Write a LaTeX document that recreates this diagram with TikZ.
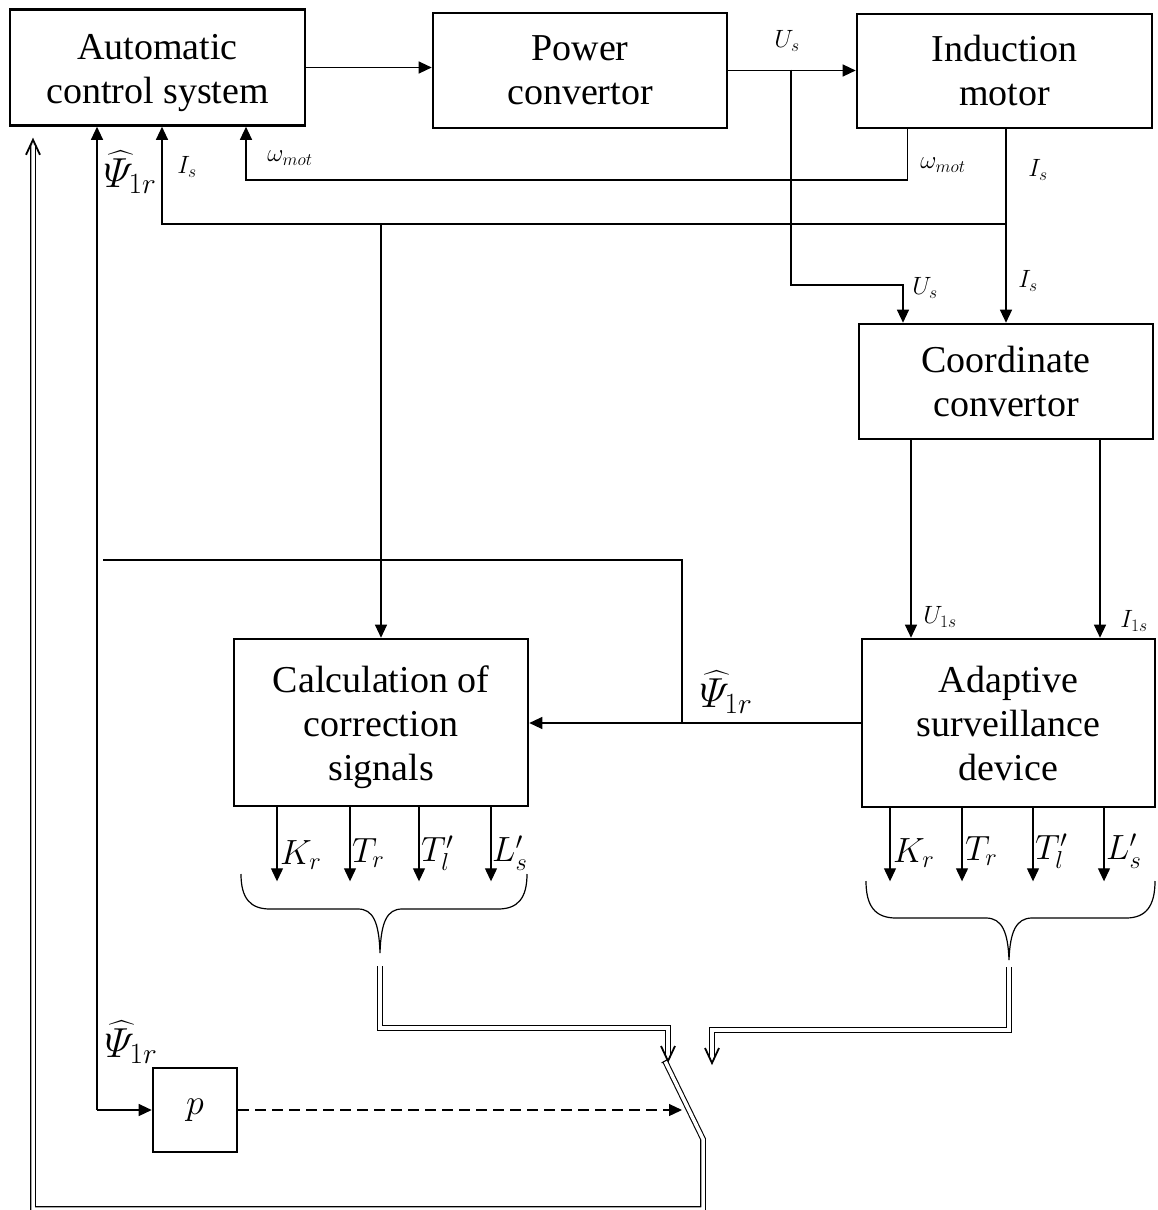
\RequirePackage{fix-cm}
\documentclass[tikz,border=0pt]{standalone}
\usepackage{amsmath}
\usepackage{fontspec}
\setmainfont{Liberation Serif}
\usetikzlibrary{arrows.meta,calc}
\begin{document}
\begin{tikzpicture}[x=1pt,y=-1pt,
  box/.style={draw,line width=2.6pt,align=center,font=\fontsize{38}{44}\selectfont,inner sep=0pt},
  boxtext/.style={align=center,font=\fontsize{38}{44}\selectfont,inner sep=0pt},
  conn/.style={line width=1.2pt},
  arr/.style={conn,-{Triangle[length=13pt,width=12pt]}},
  dbl/.style={double,double distance=3.5pt,line width=1.1pt},
  vtip/.style={line width=1.8pt,line join=miter},
  lbl/.style={font=\fontsize{25}{28}\selectfont,inner sep=0pt},
  big/.style={font=\fontsize{35}{40}\selectfont,inner sep=0pt},
  psi/.style={font=\fontsize{42}{46}\selectfont,inner sep=0pt}]
\useasboundingbox (0,0) rectangle (1157,1210);
\clip (0,0) rectangle (1157,1210);

% blocks
\node[box,minimum width=295pt,minimum height=116pt] (acs) at (157.5,67.5) {};
\node[boxtext] (acst) at (157.5,73) {Automatic\\control system};
\node[box,minimum width=294pt,minimum height=115pt] (pc) at (580,70.5) {Power\\convertor};
\node[box,minimum width=295pt,minimum height=114pt] (im) at (1004.5,71) {Induction\\motor};
\node[box,minimum width=294pt,minimum height=115pt] (cc) at (1006,381.5) {Coordinate\\convertor};
\node[box,minimum width=294pt,minimum height=167pt] (calc) at (381,722.5) {};
\node[boxtext] (calct) at (381,727) {Calculation of\\correction\\signals};
\node[box,minimum width=293pt,minimum height=168pt] (asd) at (1008.5,723) {Adaptive\\surveillance\\device};
\node[box,minimum width=84pt,minimum height=84pt,font=\fontsize{36}{40}\selectfont] (p) at (195,1110) {$p$};

% junctions
\coordinate (usj) at (791,69.5);
\coordinate (isj) at (1006,224);
\coordinate (isl) at (381,224);
\coordinate (psj) at (682,723);
\coordinate (psend) at (103,560);
\coordinate (blade) at (682,1110);

% top chain
\draw[arr] (acs.east) -- (acs.east -| pc.west);
\draw[arr] (pc.east) -- (pc.east -| im.west);
\draw[arr] (usj) |- (903,285) -- ([xshift=-103pt]cc.north);
\draw[arr] (im.south -| cc.north) -- (cc.north);
\draw[arr] ([xshift=-97pt]im.south) |- (246,180) -- ([xshift=88.5pt]acs.south);
\draw[arr] (isj) -- (162,224) -- ([xshift=4.5pt]acs.south);
\draw[arr] (isl) -- (calc.north);

% coordinate convertor to adaptive device
\draw[arr] ([xshift=-95pt]cc.south) -- ([xshift=-97.5pt]asd.north);
\draw[arr] ([xshift=94pt]cc.south) -- ([xshift=91.5pt]asd.north);

% psi
\draw[arr] (asd.west) -- (asd.west -| calc.east);
\draw[conn] (psj) |- (psend);
\draw[arr] (97,1110) -- ([xshift=-60.5pt]acs.south);
\draw[arr] (97,1110) -- (p.west);
\draw[conn,dashed,dash pattern=on 11pt off 6pt,-{Triangle[length=13pt,width=12pt]}] (p.east) -- (blade);

% outputs
\draw[arr] ([xshift=-104pt]calc.south) -- ++(0,74);
\draw[arr] ([xshift=-31pt]calc.south) -- ++(0,74);
\draw[arr] ([xshift=38pt]calc.south) -- ++(0,74);
\draw[arr] ([xshift=110pt]calc.south) -- ++(0,74);
\draw[arr] ([xshift=-118.5pt]asd.south) -- ++(0,73);
\draw[arr] ([xshift=-46.5pt]asd.south) -- ++(0,73);
\draw[arr] ([xshift=24.5pt]asd.south) -- ++(0,73);
\draw[arr] ([xshift=95.5pt]asd.south) -- ++(0,73);

\node[big,anchor=west] (k1) at (280,855) {$K_r$};
\node[big,anchor=west] (t1) at (352,853) {$T_r$};
\node[big,anchor=west] (tl1) at (421,853) {$T_l^{\prime}$};
\node[big,anchor=west] (l1) at (492,853) {$L_s^{\prime}$};
\node[big,anchor=west] (k2) at (893,853) {$K_r$};
\node[big,anchor=west] (t2) at (965,851) {$T_r$};
\node[big,anchor=west] (tl2) at (1035,851) {$T_l^{\prime}$};
\node[big,anchor=west] (l2) at (1106,851) {$L_s^{\prime}$};

% braces
\draw[conn] (241,874) .. controls (241,898) and (250,909) .. (270,909) -- (358,909)
  .. controls (373,909) and (379,922) .. (380,953)
  .. controls (381,922) and (387,909) .. (402,909) -- (498,909)
  .. controls (518,909) and (527,898) .. (527,874);
\draw[conn] (866,881) .. controls (866,906) and (875,918) .. (896,918) -- (986,918)
  .. controls (1002,918) and (1008,932) .. (1009,960)
  .. controls (1010,932) and (1016,918) .. (1032,918) -- (1126,918)
  .. controls (1146,918) and (1155,906) .. (1155,881);

% double lines (y axis points down: canvas yshift is opposite)
\coordinate (tipA) at (668,1061);
\coordinate (tipB) at (712,1063);
\coordinate (tipC) at ([xshift=-124.5pt,yshift=-13pt]acs.south);
\draw[dbl] (380,966) |- (668,1028) -- ([yshift=5pt]tipA);
\draw[vtip] ([xshift=-7pt,yshift=15pt]tipA) -- (tipA) -- ([xshift=7pt,yshift=15pt]tipA);
\draw[dbl] (1009,967) |- (712,1030) -- ([yshift=5pt]tipB);
\draw[vtip] ([xshift=-7pt,yshift=15pt]tipB) -- (tipB) -- ([xshift=7pt,yshift=15pt]tipB);
\draw[dbl] (665,1061) -- (703,1139) -- (703,1209) -- (33,1209) -- ([yshift=-5pt]tipC);
\draw[vtip] ([xshift=-7pt,yshift=-15pt]tipC) -- (tipC) -- ([xshift=7pt,yshift=-15pt]tipC);
\draw[line width=1.1pt] (661.6,1062.9) -- (668.4,1059.1);

% labels
\node[lbl] (lus1) at (787,41) {$U_s$};
\node[lbl] (lus2) at (925,288) {$U_s$};
\node[lbl] (lis1) at (1038,170) {$I_s$};
\node[lbl] (lis2) at (1028,281) {$I_s$};
\node[lbl] (lis3) at (187,167) {$I_s$};
\node[lbl] (lw1) at (290,158) {$\omega_{mot}$};
\node[lbl] (lw2) at (943,165) {$\omega_{mot}$};
\node[lbl] (lu1s) at (940,617) {$U_{1s}$};
\node[lbl] (li1s) at (1134,621) {$I_{1s}$};
\node[psi] (ps1) at (130,172) {$\widehat{\varPsi}_{1r}$};
\node[psi] (ps2) at (726,692) {$\widehat{\varPsi}_{1r}$};
\node[psi] (ps3) at (131,1042) {$\widehat{\varPsi}_{1r}$};
\end{tikzpicture}
\end{document}
